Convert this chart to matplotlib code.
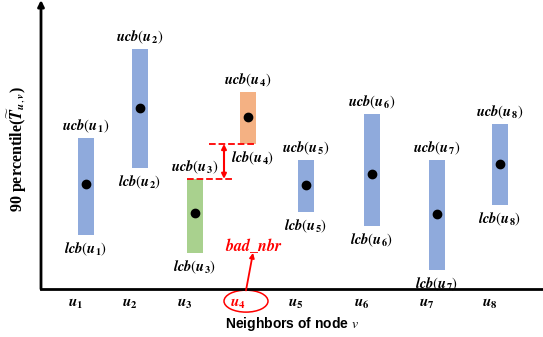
import matplotlib

matplotlib.use("Agg")
import matplotlib.pyplot as plt
from matplotlib.patches import Ellipse

plt.rcParams["mathtext.fontset"] = "stix"

nodes = ["1", "2", "3", "4", "5", "6", "7", "8"]
xpos = [44.5, 98.5, 154, 206.5, 265, 331, 396, 459]
ucb = [5.22, 8.30, 3.81, 6.82, 4.46, 6.06, 4.46, 5.71]
lcb = [1.87, 4.19, 1.25, 5.02, 2.66, 2.18, 0.66, 2.91]
est = [3.63, 6.26, 2.63, 5.95, 3.60, 3.98, 2.60, 4.33]
colors = ["#8faadc", "#8faadc", "#a9d18e", "#f4b183",
          "#8faadc", "#8faadc", "#8faadc", "#8faadc"]
bad = 3  # index of u4
red = "#ff0000"

fig = plt.figure(figsize=(5.43, 3.37), dpi=100)
ax = fig.add_axes([41 / 543, 48 / 337, 502 / 543, 289 / 337])
ax.set_xlim(0, 502)
ax.set_ylim(0, 10)

heights = [u - l for u, l in zip(ucb, lcb)]
ax.bar(xpos, heights, bottom=lcb, width=16, color=colors, zorder=2)
ax.plot(xpos, est, "o", color="black", markersize=6, zorder=3)

lab_kw = dict(ha="center", fontsize=10.5, textcoords="offset points")
for i, n in enumerate(nodes):
    ax.annotate(r"$\mathbfit{ucb}(\mathbfit{u}_{\mathbf{%s}})$" % n, (xpos[i], ucb[i]),
                xytext=(0, 2), va="bottom", **lab_kw)
    dx = 4 if i == bad else 0
    ax.annotate(r"$\mathbfit{lcb}(\mathbfit{u}_{\mathbf{%s}})$" % n, (xpos[i], lcb[i]),
                xytext=(dx, -4), va="top", **lab_kw)

# gap between ucb(u3) and lcb(u4)
ax.plot([xpos[bad] - 39, xpos[bad] + 8], [lcb[bad]] * 2, "--", color=red, lw=1.3, zorder=3)
ax.plot([xpos[2] - 8, xpos[2] + 38], [ucb[2]] * 2, "--", color=red, lw=1.3, zorder=3)
ax.annotate("", xy=(183, lcb[bad]), xytext=(183, ucb[2]),
            arrowprops=dict(arrowstyle="<|-|>", color=red, lw=1.5,
                            mutation_scale=7, shrinkA=0, shrinkB=0))

ax.text(213, 1.52, r"$\mathbfit{bad\_nbr}$", color=red, fontsize=11.5,
        ha="center", va="center")
ax.annotate("", xy=(212, 1.25), xytext=(205, -0.05),
            arrowprops=dict(arrowstyle="-|>", color=red, lw=1.3,
                            mutation_scale=7, shrinkA=0, shrinkB=0),
            annotation_clip=False)
ax.add_patch(Ellipse((205, -0.42), 44, 0.76, fill=False, edgecolor=red,
                     lw=1.1, clip_on=False))

ax.set_xticks([x - 10 for x in xpos])
ax.set_xticklabels([r"$\mathbfit{u}_{\mathbf{%s}}$" % n for n in nodes], fontsize=11)
ax.get_xticklabels()[bad].set_color(red)
ax.tick_params(axis="x", length=0, pad=5)
ax.set_yticks([])

for side in ["top", "right", "left"]:
    ax.spines[side].set_visible(False)
ax.spines["bottom"].set_linewidth(2)
ax.annotate("", xy=(0, 1), xytext=(0, 0), xycoords="axes fraction",
            arrowprops=dict(arrowstyle="-|>", color="black", lw=2,
                            mutation_scale=9, shrinkA=0, shrinkB=0))

ax.set_xlabel(r"Neighbors of node $v$", fontsize=10, fontweight="bold",
              family="Liberation Sans", labelpad=3)
fig.text(17 / 543, 1 - 149 / 337,
         r"90 percentile($\widetilde{\mathbfit{T}}_{\mathbfit{u},\mathbfit{v}}$)",
         rotation=90, ha="center", va="center", fontsize=11.5, fontweight="bold",
         family="Liberation Serif")

fig.savefig("out.png", dpi=100)
